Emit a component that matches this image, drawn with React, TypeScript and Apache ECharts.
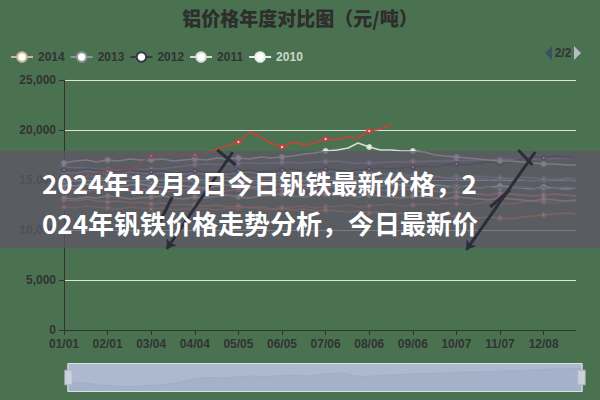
import React, { useEffect, useRef } from 'react';
import * as echarts from 'echarts';

const TITLE = '铝价格年度对比图（元/吨）';
const BANNER_LINE1 = '2024年12月2日今日钒铁最新价格，2';
const BANNER_LINE2 = '024年钒铁价格走势分析，今日最新价';
const PAGE_TEXT = '2/2';

const YEARS = ['2021', '2020', '2019', '2018', '2017', '2016', '2015', '2014', '2013', '2012', '2011', '2010'];
const LEGEND_PAGE = ['2014', '2013', '2012', '2011', '2010'];
const YEAR_COLORS = ['#c9413a', '#d98a96', '#8c9cc0', '#c8864e', '#a08ab8', '#6aa3a0', '#b07a60', '#cbb89a', '#8f9499', '#363a45', '#d5dcd6', '#e8ece8'];
const DRAW_ORDER = ['2017', '2010', '2015', '2016', '2018', '2019', '2020', '2013', '2014', '2012', '2011', '2021'];

const MONTH_DAYS = [31, 28, 31, 30, 31, 30, 31, 31, 30, 31, 30, 31];
const Y_TICKS = [0, 5000, 10000, 15000, 20000, 25000];

const SAMPLE_DATES = [
  '01/01', '01/09', '01/17', '01/24', '02/01', '02/09', '02/17', '02/24',
  '03/04', '03/12', '03/20', '03/27', '04/04', '04/12', '04/20', '04/27',
  '05/05', '05/13', '05/21', '05/28', '06/05', '06/13', '06/21', '06/28',
  '07/06', '07/14', '07/22', '07/29', '08/06', '08/14', '08/22', '08/29',
  '09/06', '09/14', '09/22', '09/29', '10/07', '10/15', '10/23', '10/30',
  '11/07', '11/15', '11/23', '11/30', '12/08', '12/16', '12/24', '12/31',
];

const V2021 = [
  15300, 15200, 15500, 15700, 15900, 16100, 16000, 16600,
  17400, 17600, 17700, 17500, 17500, 17700, 18100, 18400,
  18800, 19800, 19300, 18700, 18300, 18800, 18500, 18700,
  19100, 19000, 19300, 19200, 19900, 20100, 20600, null,
  null, null, null, null, null, null, null, null,
  null, null, null, null, null, null, null, null,
];
const V2020 = [
  14000, 14100, 13900, 14000, 14200, 14100, 13900, 14000,
  14100, 13800, 13900, 14000, 14100, 14000, 13800, 13900,
  14100, 14200, 14000, 13900, 14100, 14300, 14200, 14000,
  14200, 14400, 14300, 14100, 14200, 14000, 13900, 14100,
  14000, 13800, 13900, 13700, 13800, 13700, 13600, 13500,
  13700, 13600, 13500, 13400, 13500, 13600, 13500, 13400,
];
const V2019 = [
  15800, 15700, 15900, 15800, 15700, 15600, 15800, 15700,
  15600, 15700, 15500, 15600, 15700, 15600, 15500, 15600,
  15700, 15800, 15600, 15500, 15700, 15800, 15900, 15700,
  15800, 15900, 16000, 15800, 15700, 15600, 15500, 15600,
  15400, 15300, 15400, 15200, 15300, 15100, 15200, 15000,
  15100, 15200, 15000, 14900, 15000, 15100, 15000, 14900,
];
const V2018 = [
  13000, 12900, 13100, 12900, 12800, 12900, 12700, 12800,
  12600, 12700, 12500, 12600, 12500, 12400, 12500, 12300,
  12400, 12200, 12300, 12100, 12200, 12000, 12100, 11900,
  12000, 11900, 11800, 11900, 11700, 11800, 11600, 11700,
  11500, 11600, 11400, 11500, 11300, 11400, 11200, 11300,
  11200, 11100, 11300, 11400, 11500, 11600, 11700, 11600,
];
const V2017 = [
  16300, 16250, 16200, 16100, 16050, 16000, 16000, 16050,
  16100, 16150, 16250, 16400, 16550, 16600, 16550, 16600,
  16650, 16700, 16650, 16700, 16750, 16750, 16700, 16800,
  16850, 16900, 16750, 16650, 16700, 16750, 16800, 16800,
  16850, 16850, 16900, 16900, 16950, 16950, 17000, 17000,
  17050, 17050, 17100, 17100, 17150, 17150, 17200, 17200,
];
const V2016 = [
  14800, 14900, 14700, 14800, 14600, 14700, 14900, 14800,
  14700, 14600, 14800, 14900, 14800, 14700, 14600, 14500,
  14700, 14800, 14600, 14500, 14600, 14700, 14800, 14600,
  14500, 14600, 14400, 14500, 14600, 14500, 14400, 14300,
  14400, 14500, 14300, 14200, 14400, 14300, 14200, 14300,
  14100, 14200, 14300, 14200, 14100, 14200, 14300, 14200,
];
const V2015 = [
  12300, 12200, 12400, 12300, 12200, 12100, 12300, 12200,
  12100, 12200, 12000, 12100, 12200, 12100, 12000, 12100,
  12200, 12300, 12100, 12000, 12200, 12300, 12400, 12200,
  12300, 12400, 12500, 12300, 12400, 12500, 12600, 12400,
  12500, 12600, 12500, 12700, 12600, 12500, 12700, 12800,
  12700, 12600, 12800, 12900, 12800, 12700, 12900, 12800,
];
const V2014 = [
  13200, 13100, 13300, 13200, 13400, 13300, 13100, 13200,
  13300, 13400, 13200, 13100, 13300, 13200, 13400, 13500,
  13300, 13200, 13400, 13500, 13600, 13400, 13300, 13500,
  13600, 13500, 13400, 13300, 13500, 13400, 13300, 13200,
  13400, 13300, 13200, 13100, 13300, 13200, 13100, 13000,
  13200, 13100, 13000, 12900, 13100, 13000, 12900, 13000,
];
const V2013 = [
  15300, 15200, 15400, 15300, 15100, 15200, 15400, 15300,
  15200, 15100, 15300, 15200, 15100, 15000, 15200, 15300,
  15100, 15200, 15300, 15400, 15200, 15300, 15500, 15400,
  15300, 15200, 15400, 15300, 15200, 15100, 15300, 15400,
  15200, 15100, 15300, 15200, 15100, 15200, 15400, 15300,
  15200, 15100, 15300, 15200, 15100, 15000, 15200, 15100,
];
const V2012 = [
  16000, 15900, 16100, 16000, 15900, 15800, 16000, 15900,
  15800, 15900, 15700, 15800, 15900, 15800, 15700, 15800,
  15900, 16000, 15800, 15900, 16000, 16100, 15900, 16000,
  16100, 16000, 15900, 16000, 16100, 16200, 16100, 16200,
  16300, 16400, 16300, 16500, 16600, 16500, 16700, 16800,
  16700, 16900, 17100, 17300, 17200, 17400, 17300, 17200,
];
const V2011 = [
  16700, 16900, 17000, 16800, 17000, 16900, 17100, 17000,
  17000, 17100, 16900, 17000, 17100, 17000, 17200, 17100,
  17200, 17100, 17300, 17200, 17300, 17400, 17600, 17700,
  17900, 18000, 18200, 18700, 18300, 18000, 18000, 17900,
  17900, 17800, 17500, 17400, 17300, 17200, 17100, 17000,
  16900, 16900, 16800, 16700, 16600, 16600, 16500, 16500,
];
const V2010 = [
  14500, 14400, 14600, 14500, 14400, 14300, 14500, 14600,
  14400, 14300, 14500, 14400, 14300, 14200, 14400, 14500,
  14300, 14200, 14400, 14500, 14600, 14400, 14500, 14700,
  14600, 14500, 14700, 14600, 14500, 14400, 14600, 14500,
  14400, 14300, 14500, 14400, 14300, 14400, 14200, 14300,
  14400, 14300, 14200, 14100, 14300, 14200, 14100, 14200,
];

// dark annotation arrows: [fromDate, fromValue, toDate, toValue]
const MARK_ARROWS: [string, number, string, number][] = [
  ['05/01', 17800, '03/15', 8100],
  ['12/02', 17800, '10/14', 8000],
];
// dark annotation strokes (no arrow head)
const MARK_STROKES: [string, number, string, number][] = [
  ['04/20', 18000, '05/03', 16500],
  ['11/20', 18000, '11/30', 16500],
  ['03/19', 13300, '03/10', 10800],
  ['11/14', 14000, '10/31', 12300],
];

export default function App() {
  const ref = useRef<HTMLDivElement>(null);

  useEffect(() => {
    const el = ref.current;
    if (!el) return;
    const chart = echarts.init(el, null, { renderer: 'svg' });

    const categories: string[] = [];
    MONTH_DAYS.forEach((n, m) => {
      for (let d = 1; d <= n; d++) {
        categories.push(String(m + 1).padStart(2, '0') + '/' + String(d).padStart(2, '0'));
      }
    });

    const valuesByYear: Record<string, (number | null)[]> = {
      '2021': V2021, '2020': V2020, '2019': V2019, '2018': V2018, '2017': V2017, '2016': V2016,
      '2015': V2015, '2014': V2014, '2013': V2013, '2012': V2012, '2011': V2011, '2010': V2010,
    };

    const markData: any[] = [];
    MARK_ARROWS.forEach(([d1, v1, d2, v2]) => {
      markData.push([{ coord: [d1, v1], symbol: 'none' }, { coord: [d2, v2], symbol: 'arrow' }]);
    });
    MARK_STROKES.forEach(([d1, v1, d2, v2]) => {
      markData.push([{ coord: [d1, v1], symbol: 'none' }, { coord: [d2, v2], symbol: 'none' }]);
    });

    const series = DRAW_ORDER.map((year) => {
      const color = YEAR_COLORS[YEARS.indexOf(year)];
      const vals = valuesByYear[year];
      const s: any = {
        name: year,
        type: 'line',
        data: SAMPLE_DATES.map((d, i) => [d, vals[i]]),
        symbol: 'emptyCircle',
        symbolSize: (_v: any, p: any) => (p.dataIndex % 4 === 0 ? 4 : 0),
        showAllSymbol: true,
        silent: true,
        z: 2,
        lineStyle: { width: 1.6, color },
        itemStyle: { color, borderWidth: 1 },
        emphasis: { disabled: true },
      };
      if (year === '2012') {
        s.markLine = {
          silent: true,
          z: 5,
          symbol: ['none', 'none'],
          symbolSize: 9,
          label: { show: false },
          emphasis: { disabled: true },
          lineStyle: { color: '#2b2e3a', width: 3, type: 'solid', opacity: 1 },
          data: markData,
        };
      }
      return s;
    });

    const legendData = LEGEND_PAGE.map((y) =>
      y === '2010' ? { name: y, textStyle: { color: '#cdd6cd' } } : { name: y }
    );

    chart.setOption({
      animation: false,
      backgroundColor: '#4a7250',
      title: {
        text: TITLE,
        left: 'center',
        top: 3,
        textStyle: { fontSize: 19, fontWeight: 900, color: '#2e2e2e', fontFamily: 'Noto Sans CJK SC' },
      },
      legend: {
        data: legendData,
        left: 5,
        top: 46,
        itemWidth: 22,
        itemHeight: 12,
        itemGap: 5,
        textStyle: { color: '#333', fontSize: 12, fontWeight: 'bold', fontFamily: 'Liberation Sans' },
        selectedMode: false,
      },
      grid: { left: 64, right: 24, top: 80, bottom: 70 },
      xAxis: {
        type: 'category',
        data: categories,
        boundaryGap: false,
        axisLine: { lineStyle: { color: '#333', width: 1 } },
        axisTick: { interval: 30, length: 5, lineStyle: { color: '#333' } },
        axisLabel: { interval: 30, color: '#333', fontSize: 12, fontWeight: 'bold', fontFamily: 'Liberation Sans', margin: 8 },
        splitLine: { show: false },
      },
      yAxis: {
        type: 'value',
        min: Y_TICKS[0],
        max: Y_TICKS[Y_TICKS.length - 1],
        interval: 5000,
        axisLine: { show: true, lineStyle: { color: '#333', width: 1 } },
        axisTick: { show: true, length: 5, lineStyle: { color: '#333' } },
        axisLabel: {
          color: '#333',
          fontSize: 12,
          fontWeight: 'bold',
          fontFamily: 'Liberation Sans',
          formatter: (v: number) => v.toLocaleString('en-US'),
        },
        splitLine: { lineStyle: { color: '#dde4dc', width: 1 } },
      },
      dataZoom: [
        {
          type: 'slider',
          xAxisIndex: 0,
          start: 0,
          end: 100,
          left: 65,
          right: 20,
          top: 363,
          height: 29,
          showDetail: false,
          brushSelect: false,
          moveHandleSize: 0,
          backgroundColor: '#a9b5cc',
          borderColor: '#d3e6da',
          fillerColor: 'rgba(176,188,210,0.55)',
          dataBackground: {
            lineStyle: { color: '#8e9bb5', width: 1 },
            areaStyle: { color: '#97a4bd', opacity: 1 },
          },
          selectedDataBackground: {
            lineStyle: { color: '#8e9bb5', width: 1 },
            areaStyle: { color: '#97a4bd', opacity: 1 },
          },
          handleIcon: 'path://M0,0H10V20H0Z',
          handleSize: '50%',
          handleStyle: { color: '#c9d2dc', borderColor: '#b0bac6', borderWidth: 1 },
        },
      ],
      graphic: [
        {
          type: 'polygon',
          silent: true,
          shape: { points: [[552, 46], [552, 60], [545, 53]] },
          style: { fill: '#3d4e5e' },
        },
        {
          type: 'text',
          silent: true,
          x: 563,
          y: 53,
          style: {
            text: PAGE_TEXT,
            fill: '#333',
            fontSize: 12,
            fontWeight: 'bold',
            fontFamily: 'Liberation Sans',
            align: 'center',
            verticalAlign: 'middle',
          },
        },
        {
          type: 'polygon',
          silent: true,
          shape: { points: [[574, 46], [574, 60], [581, 53]] },
          style: { fill: '#b5bcc2' },
        },
        {
          type: 'rect',
          z: 3,
          silent: true,
          shape: { x: 0, y: 151, width: 600, height: 97 },
          style: { fill: 'rgba(94,86,104,0.74)' },
        },
        {
          type: 'text',
          z: 10,
          silent: true,
          x: 42,
          y: 182,
          style: {
            text: BANNER_LINE1,
            fill: '#ffffff',
            fontSize: 26,
            fontWeight: 'bold',
            fontFamily: 'Noto Sans CJK SC',
            verticalAlign: 'middle',
            align: 'left',
          },
        },
        {
          type: 'text',
          z: 10,
          silent: true,
          x: 42,
          y: 222,
          style: {
            text: BANNER_LINE2,
            fill: '#ffffff',
            fontSize: 26,
            fontWeight: 'bold',
            fontFamily: 'Noto Sans CJK SC',
            verticalAlign: 'middle',
            align: 'left',
          },
        },
      ],
      series,
    });

    return () => chart.dispose();
  }, []);

  return <div ref={ref} style={{ position: 'absolute', left: 0, top: 0, width: 600, height: 400 }} />;
}
